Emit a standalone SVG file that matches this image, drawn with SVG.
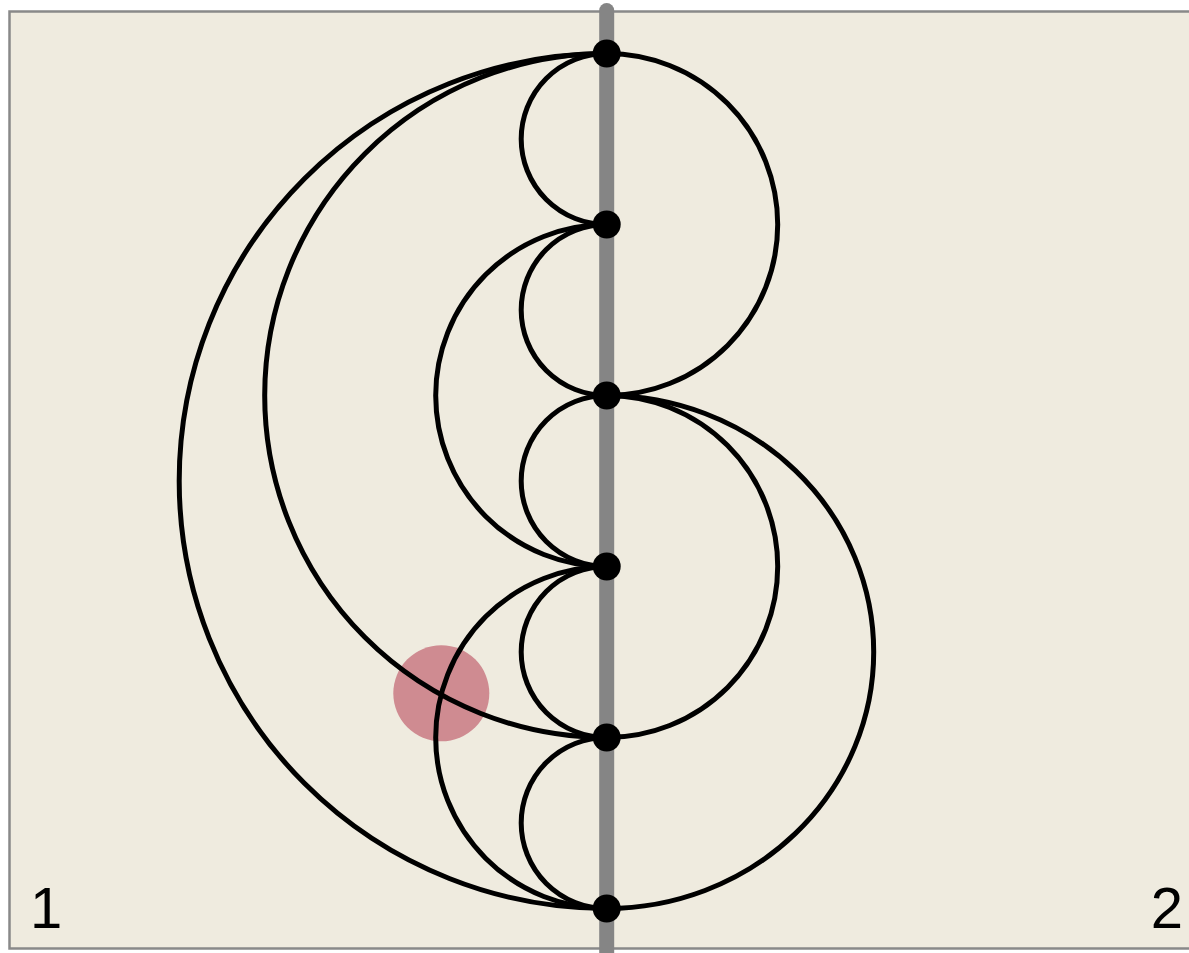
<svg xmlns="http://www.w3.org/2000/svg" width="1189" height="953" viewBox="0 0 1189 953">
<style>
.panel{fill:#efebdf;stroke:#898989;stroke-width:2.5}
.axis{stroke:#858585;stroke-width:15;stroke-linecap:round;fill:none}
.arc{fill:none;stroke:#000;stroke-width:5}
.node{fill:#000}
.lbl{font-family:"Liberation Sans",Arial,sans-serif;font-size:58px;fill:#000}
</style>
<g id="background">
<rect class="panel" x="9.5" y="11.5" width="1190" height="937"/>
</g>
<circle id="highlight" cx="441.3" cy="693.3" r="48" fill="#cf8b91"/>
<line class="axis" x1="606.7" y1="10.5" x2="606.7" y2="960"/>
<g id="connectors">
<path class="arc" d="M606.7 53.5 A85.5 85.5 0 0 0 606.7 224.5"/>
<path class="arc" d="M606.7 224.5 A85.5 85.5 0 0 0 606.7 395.5"/>
<path class="arc" d="M606.7 395.5 A85.5 85.5 0 0 0 606.7 566.5"/>
<path class="arc" d="M606.7 566.5 A85.5 85.5 0 0 0 606.7 737.5"/>
<path class="arc" d="M606.7 737.5 A85.5 85.5 0 0 0 606.7 908.5"/>
<path class="arc" d="M606.7 224.5 A171 171 0 0 0 606.7 566.5"/>
<path class="arc" d="M606.7 566.5 A171 171 0 0 0 606.7 908.5"/>
<path class="arc" d="M606.7 53.5 A342 342 0 0 0 606.7 737.5"/>
<path class="arc" d="M606.7 53.5 A427.5 427.5 0 0 0 606.7 908.5"/>
<path class="arc" d="M606.7 53.5 A171 171 0 0 1 606.7 395.5"/>
<path class="arc" d="M606.7 395.5 A171 171 0 0 1 606.7 737.5"/>
<path class="arc" d="M606.7 395.5 A267 256.5 0 0 1 606.7 908.5"/>
</g>
<g id="n1"><circle class="node" cx="606.7" cy="53.5" r="14"/></g>
<g id="n2"><circle class="node" cx="606.7" cy="224.5" r="14"/></g>
<g id="n3"><circle class="node" cx="606.7" cy="395.5" r="14"/></g>
<g id="n4"><circle class="node" cx="606.7" cy="566.5" r="14"/></g>
<g id="n5"><circle class="node" cx="606.7" cy="737.5" r="14"/></g>
<g id="n6"><circle class="node" cx="606.7" cy="908.5" r="14"/></g>
<g id="labels">
<text class="lbl" x="30" y="928">1</text>
<text class="lbl" x="1183" y="928" text-anchor="end">2</text>
</g>
</svg>
